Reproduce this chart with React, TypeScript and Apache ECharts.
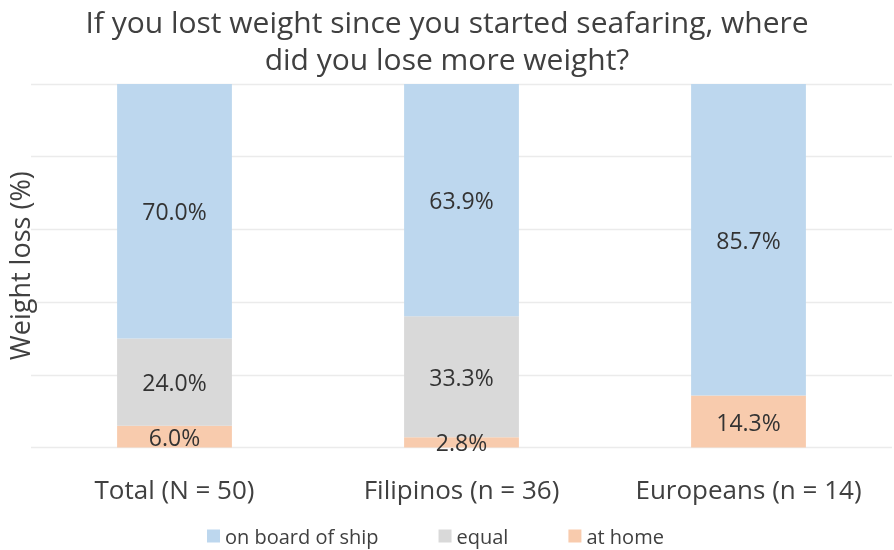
import React, { useEffect, useRef } from "react";
import * as echarts from "echarts";

const categories = ["Total (N = 50)", "Filipinos (n = 36)", "Europeans (n = 14)"];
const atHome = [6.0, 2.8, 14.3];
const equal = [24.0, 33.3, 0];
const onBoard = [70.0, 63.9, 85.7];
const legendOrder = ["on board of ship", "equal", "at home"];

const FONT = "'Open Sans', 'Noto Sans', sans-serif";
const TXT = "#404040";

export default function App() {
  const ref = useRef<HTMLDivElement>(null);
  useEffect(() => {
    if (!ref.current) return;
    const chart = echarts.init(ref.current, null, { renderer: "svg" });
    const label = {
      show: true,
      position: "inside" as const,
      color: "#333333",
      fontSize: 23,
      fontFamily: FONT,
      formatter: (p: any) => (p.value > 0 ? p.value.toFixed(1) + "%" : ""),
    };
    const mk = (name: string, data: number[], color: string) => ({
      name,
      type: "bar" as const,
      stack: "s",
      data,
      barWidth: "40%",
      itemStyle: { color },
      label,
    });
    chart.setOption({
      animation: false,
      textStyle: { fontFamily: FONT },
      title: {
        text: "If you lost weight since you started seafaring, where\ndid you lose more weight?",
        left: "center",
        top: -2,
        textStyle: { fontSize: 30, fontWeight: "normal", color: TXT, lineHeight: 37, fontFamily: FONT },
      },
      legend: {
        data: legendOrder,
        top: 521,
        left: 202,
        itemWidth: 13,
        itemHeight: 13,
        itemGap: 60,
        icon: "rect",
        textStyle: { fontSize: 20, color: TXT, fontFamily: FONT },
      },
      grid: { left: 31, right: 2, top: 84, bottom: 102.5, outerBoundsMode: "none" },
      xAxis: {
        type: "category",
        data: categories,
        axisLine: { show: false },
        axisTick: { show: false },
        axisLabel: { fontSize: 26, color: TXT, margin: 28, fontFamily: FONT, interval: 0, hideOverlap: false },
      },
      yAxis: {
        type: "value",
        min: 0,
        max: 100,
        interval: 20,
        name: "Weight loss (%)",
        nameLocation: "middle",
        nameGap: -1,
        nameTextStyle: { fontSize: 27, lineHeight: 26, color: TXT, fontFamily: FONT },
        axisLabel: { show: false },
        axisLine: { show: false },
        axisTick: { show: false },
        splitLine: { lineStyle: { color: "#ebebeb", width: 1.3 } },
      },
      series: [
        mk("at home", atHome, "#F8CBAD"),
        mk("equal", equal, "#D9D9D9"),
        mk("on board of ship", onBoard, "#BDD7EE"),
      ],
    });
    return () => chart.dispose();
  }, []);
  return <div ref={ref} style={{ position: "fixed", left: 0, top: 0, width: 894, height: 550 }} />;
}
